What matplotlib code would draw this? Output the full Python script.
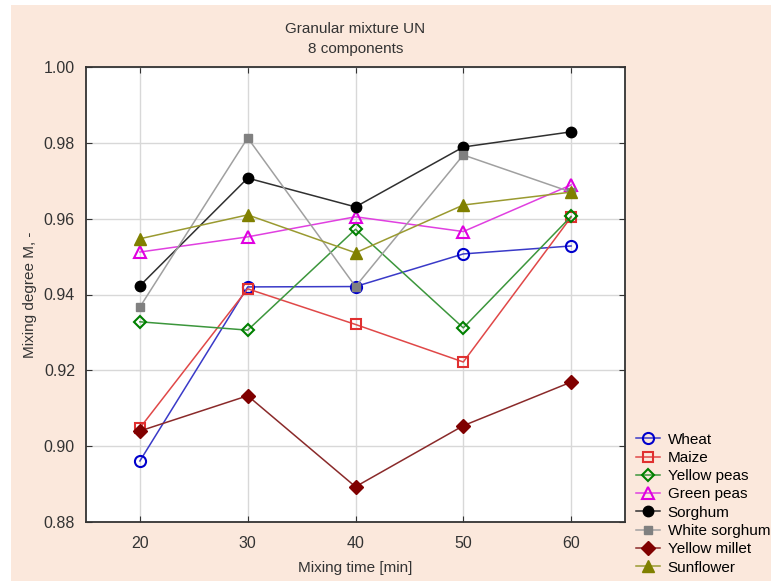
import matplotlib
matplotlib.use("Agg")
import matplotlib.pyplot as plt
from matplotlib.patches import Rectangle

plt.rcParams["font.family"] = ["Liberation Sans", "DejaVu Sans"]

# mixing time [min]
times = [20, 30, 40, 50, 60]

wheat = [0.8961, 0.9420, 0.9421, 0.9507, 0.9528]
maize = [0.9048, 0.9415, 0.9321, 0.9222, 0.9604]
yellow_peas = [0.9328, 0.9306, 0.9572, 0.9312, 0.9606]
green_peas = [0.9512, 0.9552, 0.9605, 0.9566, 0.9689]
sorghum = [0.9423, 0.9707, 0.9631, 0.9789, 0.9829]
white_sorghum = [0.9367, 0.9813, 0.9421, 0.9768, 0.9670]
yellow_millet = [0.9040, 0.9133, 0.8893, 0.9054, 0.9169]
sunflower = [0.9547, 0.9610, 0.9510, 0.9636, 0.9670]

names = ["Wheat", "Maize", "Yellow peas", "Green peas", "Sorghum",
         "White sorghum", "Yellow millet", "Sunflower"]

yticks = [0.88, 0.90, 0.92, 0.94, 0.96, 0.98, 1.00]

bg = "#fbe8dc"

fig = plt.figure(figsize=(7.71, 5.81), dpi=100, facecolor="white")
# peach panel like the original screenshot
fig.patches.append(Rectangle((11 / 771, 0), 1, 1 - 5 / 581, transform=fig.transFigure,
                             facecolor=bg, edgecolor="none", zorder=-10))

ax = fig.add_axes([86 / 771, 1 - 522 / 581, (625 - 86) / 771, (522 - 67) / 581])
ax.set_facecolor("white")

# (data, line colour, marker, marker colour, filled, size)
styles = [
    (wheat, "#3a3ac8", "o", "#0000cc", False, 8),
    (maize, "#e04848", "s", "#e03030", False, 7),
    (yellow_peas, "#3c963c", "D", "#008000", False, 6),
    (green_peas, "#e040e0", "^", "#e000e0", False, 8),
    (sorghum, "#303030", "o", "#000000", True, 7.5),
    (white_sorghum, "#a0a0a0", "s", "#808080", True, 6),
    (yellow_millet, "#8a2a2a", "D", "#800000", True, 7),
    (sunflower, "#9a9a30", "^", "#808000", True, 8),
]

for (vals, lc, m, mc, filled, ms), name in zip(styles, names):
    ax.plot(times, vals, color=lc, lw=1.1, marker=m, markersize=ms,
            markeredgecolor=mc, markerfacecolor=mc if filled else "none",
            markeredgewidth=1.5 if not filled else 1, label=name)

ax.set_xlim(15, 65)
ax.set_ylim(0.88, 1.00)
ax.set_xticks(times)
ax.set_yticks(yticks)
ax.set_yticklabels([f"{v:.2f}" for v in yticks])
ax.grid(True, color="#d8d8d8", lw=1)
ax.set_axisbelow(True)
ax.tick_params(direction="in", top=True, right=True, labelsize=11.5, length=4,
               colors="#333333", labelcolor="#333333")
ax.tick_params(axis="x", pad=10)
ax.tick_params(axis="y", pad=8)
for s in ax.spines.values():
    s.set_color("#333333")
    s.set_linewidth(1.3)

ax.set_xlabel("Mixing time [min]", fontsize=11, color="#333333", labelpad=7)
ax.set_ylabel("Mixing degree M, -", fontsize=11, color="#333333", labelpad=5)
ax.set_title("Granular mixture UN\n8 components", fontsize=11, color="#333333",
             linespacing=1.6, pad=10)

fig.legend(loc="upper left", bbox_to_anchor=(628 / 771, 1 - 425 / 581),
           frameon=False, fontsize=11, handlelength=1.6, handletextpad=0.5,
           labelspacing=0.28, borderpad=0)

fig.savefig("out.png", dpi=100, facecolor=fig.get_facecolor())
